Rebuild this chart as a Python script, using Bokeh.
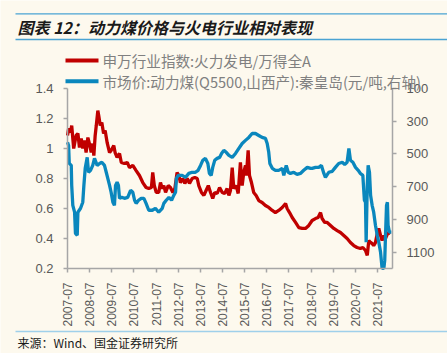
from bokeh.plotting import figure
from bokeh.models import Range1d, LinearAxis, FixedTicker, Label, BoxAnnotation
from bokeh.embed import file_html
from bokeh.resources import INLINE
from math import pi

# ---- data ----
red_x = [2007.50, 2007.55, 2007.64, 2007.69, 2007.78, 2007.89, 2007.97, 2008.04, 2008.12, 2008.19,
         2008.27, 2008.34, 2008.42, 2008.49, 2008.57, 2008.64, 2008.69, 2008.75, 2008.80, 2008.87,
         2008.91, 2008.98, 2009.05, 2009.13, 2009.20, 2009.29, 2009.40, 2009.47, 2009.59, 2009.65,
         2009.74, 2009.85, 2009.93, 2010.07, 2010.20, 2010.30, 2010.45, 2010.60, 2010.75, 2010.90,
         2011.05, 2011.17, 2011.29, 2011.35, 2011.42, 2011.51, 2011.62, 2011.70, 2011.78, 2011.85,
         2011.93, 2012.05, 2012.15, 2012.26, 2012.35, 2012.45, 2012.53, 2012.60, 2012.71, 2012.80,
         2012.91, 2013.01, 2013.13, 2013.25, 2013.36, 2013.43, 2013.55, 2013.66, 2013.76, 2013.86,
         2013.96, 2014.06, 2014.15, 2014.26, 2014.37, 2014.49, 2014.60, 2014.71, 2014.79, 2014.86,
         2014.94, 2015.01, 2015.12, 2015.21, 2015.31, 2015.39, 2015.46, 2015.54, 2015.58, 2015.66,
         2015.72, 2015.81, 2015.91, 2016.02, 2016.14, 2016.29, 2016.44, 2016.59, 2016.75, 2016.89,
         2017.04, 2017.20, 2017.35, 2017.42, 2017.53, 2017.65, 2017.80, 2017.95, 2018.10, 2018.25,
         2018.40, 2018.55, 2018.70, 2018.82, 2018.93, 2019.00, 2019.12, 2019.23, 2019.38, 2019.53,
         2019.68, 2019.83, 2019.98, 2020.13, 2020.28, 2020.43, 2020.58, 2020.73, 2020.84, 2020.96,
         2021.04, 2021.11, 2021.19, 2021.26, 2021.33, 2021.41, 2021.49, 2021.56, 2021.64, 2021.71,
         2021.79, 2021.86, 2021.98, 2022.09]
red_y = [1.087, 1.133, 1.107, 1.153, 1.00, 1.087, 1.10, 1.007, 1.067, 1.00,
         1.053, 0.973, 1.073, 1.033, 0.973, 1.033, 0.953, 1.087, 1.153, 1.253,
         1.22, 1.153, 1.173, 1.10, 1.12, 1.04, 0.973, 0.987, 1.02, 0.973,
         0.94, 0.967, 0.907, 0.90, 0.907, 0.873, 0.887, 0.853, 0.82, 0.773,
         0.74, 0.733, 0.74, 0.84, 0.753, 0.707, 0.707, 0.773, 0.733, 0.753,
         0.707, 0.753, 0.74, 0.707, 0.733, 0.84, 0.82, 0.773, 0.80, 0.767,
         0.80, 0.767, 0.80, 0.807, 0.80, 0.753, 0.707, 0.687, 0.72, 0.753,
         0.707, 0.667, 0.707, 0.70, 0.74, 0.707, 0.70, 0.733, 0.687, 0.72,
         0.873, 0.733, 0.753, 0.70, 0.907, 0.753, 0.84, 0.887, 0.82, 0.987,
         0.82, 0.773, 0.707, 0.687, 0.653, 0.64, 0.62, 0.607, 0.587, 0.573,
         0.587, 0.607, 0.633, 0.60, 0.573, 0.54, 0.507, 0.473, 0.467, 0.467,
         0.487, 0.52, 0.533, 0.54, 0.573, 0.533, 0.507, 0.507, 0.487, 0.467,
         0.453, 0.44, 0.42, 0.40, 0.373, 0.353, 0.34, 0.333, 0.34, 0.32,
         0.287, 0.387, 0.373, 0.367, 0.353, 0.373, 0.433, 0.467, 0.42, 0.387,
         0.42, 0.40, 0.44, 0.433]

blue_x = [2007.50, 2007.55, 2007.58, 2007.67, 2007.69, 2007.74, 2007.82, 2007.86, 2007.94, 2007.97,
          2008.09, 2008.19, 2008.24, 2008.30, 2008.39, 2008.45, 2008.54, 2008.64, 2008.72, 2008.84,
          2008.95, 2009.05, 2009.17, 2009.25, 2009.32, 2009.40, 2009.47, 2009.55, 2009.62, 2009.67,
          2009.74, 2009.80, 2009.85, 2009.95, 2010.07, 2010.22, 2010.35, 2010.45, 2010.53, 2010.60,
          2010.71, 2010.83, 2010.95, 2011.05, 2011.17, 2011.33, 2011.47, 2011.62, 2011.78, 2011.85,
          2011.96, 2012.08, 2012.20, 2012.30, 2012.38, 2012.42, 2012.50, 2012.68, 2012.83, 2012.98,
          2013.13, 2013.28, 2013.40, 2013.51, 2013.61, 2013.73, 2013.84, 2013.91, 2013.99, 2014.06,
          2014.15, 2014.26, 2014.37, 2014.46, 2014.56, 2014.67, 2014.79, 2014.94, 2015.09, 2015.24,
          2015.39, 2015.54, 2015.69, 2015.84, 2015.99, 2016.14, 2016.29, 2016.44, 2016.52, 2016.59,
          2016.64, 2016.75, 2016.89, 2017.04, 2017.20, 2017.27, 2017.38, 2017.47, 2017.57, 2017.72,
          2017.87, 2018.02, 2018.17, 2018.33, 2018.48, 2018.55, 2018.70, 2018.85, 2018.97, 2019.08,
          2019.15, 2019.30, 2019.46, 2019.60, 2019.75, 2019.91, 2020.02, 2020.13, 2020.21, 2020.28,
          2020.39, 2020.51, 2020.63, 2020.73, 2020.84, 2020.91, 2020.96, 2020.99, 2021.04, 2021.08,
          2021.14, 2021.19, 2021.26, 2021.33, 2021.41, 2021.49, 2021.56, 2021.64, 2021.71, 2021.79,
          2021.83, 2021.86, 2021.91, 2021.95, 2021.98, 2022.04, 2022.13]
blue_y = [428, 448, 558, 570, 692, 814, 856, 985, 997, 856,
          832, 795, 692, 588, 521, 612, 600, 570, 527, 570,
          558, 551, 570, 612, 649, 692, 734, 795, 814, 692,
          673, 692, 771, 765, 771, 765, 722, 734, 783, 802,
          783, 771, 771, 802, 844, 844, 832, 856, 832, 802,
          783, 765, 783, 753, 734, 649, 631, 631, 643, 619,
          612, 612, 600, 570, 539, 527, 558, 619, 631, 582,
          539, 527, 521, 497, 478, 490, 509, 521, 497, 466,
          436, 417, 399, 375, 375, 387, 399, 405, 436, 490,
          558, 588, 600, 600, 588, 631, 570, 612, 619, 612,
          625, 619, 600, 582, 588, 588, 582, 582, 570, 619,
          643, 612, 606, 582, 558, 551, 564, 551, 466, 539,
          551, 582, 600, 619, 631, 783, 795, 1039, 692, 570,
          612, 753, 814, 856, 936, 997, 1039, 1100, 1199, 1199,
          1149, 1015, 814, 795, 936, 978, 978]

x_ticks = [2007.5, 2008.5, 2009.5, 2010.5, 2011.5, 2012.5, 2013.5, 2014.5,
           2015.5, 2016.5, 2017.5, 2018.5, 2019.5, 2020.5, 2021.5]
x_labels = ["2007-07", "2008-07", "2009-07", "2010-07", "2011-07", "2012-07", "2013-07",
            "2014-07", "2015-07", "2016-07", "2017-07", "2018-07", "2019-07", "2020-07", "2021-07"]
left_ticks = [0.2, 0.4, 0.6, 0.8, 1, 1.2, 1.4]
left_labels = ["0.2", "0.4", "0.6", "0.8", "1", "1.2", "1.4"]
right_ticks = [100, 300, 500, 700, 900, 1100]

X_MIN, X_MAX = 2007.5, 2022.18
L_MIN, L_MAX = 0.2, 1.4
R_TOP, R_BOTTOM = 100, 1200

title_text = "图表 12：动力煤价格与火电行业相对表现"
red_name = "申万行业指数:火力发电/万得全A"
blue_name = "市场价:动力煤(Q5500,山西产):秦皇岛(元/吨,右轴)"
source_text = "来源：Wind、国金证券研究所"

# ---- styling / layout (pixels) ----
BG = "#FDF9EE"
RED = "#C00000"
BLUE = "#0A87BD"
RULE = "#4AA3D3"
RULE2 = "#9FD0EA"
AXIS = "#A6A6A6"
TICKTXT = "#595959"
CJK = "Noto Sans CJK SC"
NUM = "Liberation Sans"
W, H = 447, 353
PL, PR, PT, PB = 67, 392, 88, 268   # plot box in canvas pixels

# the frame covers the whole canvas; ranges are widened so the data box lands on PL..PR, PT..PB
kx = (X_MAX - X_MIN) / (PR - PL)
kl = (L_MAX - L_MIN) / (PB - PT)
kr = (R_BOTTOM - R_TOP) / (PB - PT)
x_range = Range1d(X_MIN - PL * kx, X_MAX + (W - PR) * kx)
y_range = Range1d(L_MIN - (H - PB) * kl, L_MAX + PT * kl)
r_range = Range1d(R_BOTTOM + (H - PB) * kr, R_TOP - PT * kr)

p = figure(width=W, height=H, output_backend="svg", toolbar_location=None, title=None,
           x_range=x_range, y_range=y_range,
           min_border=0, min_border_left=0, min_border_right=0, min_border_top=0, min_border_bottom=0,
           background_fill_color=BG, border_fill_color=BG, outline_line_color=None)
p.extra_y_ranges = {"right": r_range}
p.grid.visible = False

def style_axis(ax, size):
    ax.axis_line_color = AXIS
    ax.axis_line_width = 1.5
    ax.major_tick_line_color = AXIS
    ax.major_tick_line_width = 1.5
    ax.major_tick_in = 0
    ax.major_tick_out = 4
    ax.minor_tick_line_color = None
    ax.major_label_text_color = TICKTXT
    ax.major_label_text_font = NUM
    ax.major_label_text_font_size = size

xa = p.xaxis[0]
xa.fixed_location = L_MIN
xa.bounds = (X_MIN, X_MAX)
xa.ticker = FixedTicker(ticks=x_ticks)
xa.major_label_overrides = dict(zip(x_ticks, x_labels))
xa.major_label_orientation = pi / 2
xa.major_label_standoff = 10
style_axis(xa, "12px")

ya = p.yaxis[0]
ya.fixed_location = X_MIN
ya.bounds = (L_MIN, L_MAX)
ya.ticker = FixedTicker(ticks=left_ticks)
ya.major_label_overrides = dict(zip(left_ticks, left_labels))
ya.major_label_standoff = 10
style_axis(ya, "13px")

ra = LinearAxis(y_range_name="right", fixed_location=X_MAX, bounds=(R_TOP, R_BOTTOM))
ra.ticker = FixedTicker(ticks=right_ticks)
ra.major_label_standoff = 10
style_axis(ra, "13px")
p.add_layout(ra, "right")

p.line(red_x, red_y, line_color=RED, line_width=3.3)
p.line(blue_x, blue_y, line_color=BLUE, line_width=3.3, y_range_name="right")

# ---- texts and decorations (screen units; frame == canvas, y measured from bottom) ----
def hbar(x0, x1, yc, h, color):
    p.add_layout(BoxAnnotation(left=x0, right=x1, top=H - (yc - h / 2), bottom=H - (yc + h / 2),
                               left_units="screen", right_units="screen",
                               top_units="screen", bottom_units="screen",
                               fill_color=color, fill_alpha=1, line_color=None))

def label(x, yc, txt, size, color, style="normal"):
    p.add_layout(Label(x=x, y=H - yc, x_units="screen", y_units="screen", text=txt,
                       text_font=CJK, text_font_size=size, text_font_style=style,
                       text_color=color, text_baseline="middle", text_align="left"))

hbar(15, W, 13.3, 1.3, RULE)
hbar(15, W, 39, 1.3, RULE)
label(17, 26, title_text, "16px", "#1A1A1A", "bold italic")

hbar(65, 98, 60, 4, RED)
hbar(65, 98, 80.7, 4, BLUE)
label(102, 60, red_name, "14.6px", "#808080")
label(102, 80.7, blue_name, "14.6px", "#808080")

hbar(15, W, 331, 1.3, RULE2)
label(17, 342, source_text, "12px", "#1A1A1A")

open("out.html", "w").write(file_html(p, INLINE))
